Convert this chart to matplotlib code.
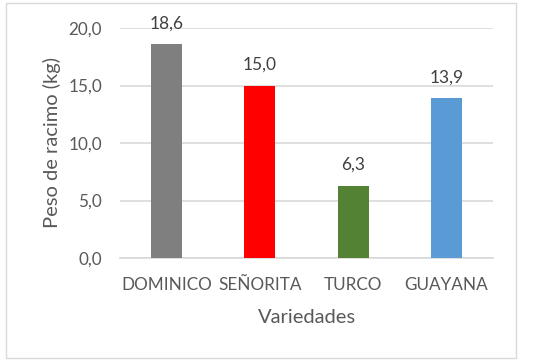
import matplotlib

matplotlib.use("Agg")
import matplotlib.pyplot as plt
from matplotlib.patches import Rectangle

categories = ["DOMINICO", "SEÑORITA", "TURCO", "GUAYANA"]
values = [18.6, 15.0, 6.3, 13.9]
colors = ["#7f7f7f", "#ff0000", "#548235", "#5b9bd5"]
yticks = [0, 5, 10, 15, 20]

plt.rcParams["font.family"] = ["Lato", "DejaVu Sans"]
text_color = "#595959"

fig = plt.figure(figsize=(5.46, 3.61), dpi=100)
ax = fig.add_axes([120 / 546, 1 - 258 / 361, 373 / 546, 230 / 361])

x = range(len(categories))
ax.bar(x, values, width=0.33, color=colors, zorder=3)
for xi, v in zip(x, values):
    ax.text(xi, v + 1.1, f"{v:.1f}".replace(".", ","), ha="center", va="bottom",
            fontsize=12.5, color="#404040")

ax.set_xlim(-0.5, len(categories) - 0.5)
ax.set_ylim(0, 20)
ax.set_yticks(yticks)
ax.set_yticklabels([f"{t:.1f}".replace(".", ",") for t in yticks])
ax.set_xticks(list(x))
ax.set_xticklabels(categories)
ax.tick_params(axis="both", length=0, labelsize=12.3, labelcolor=text_color)
ax.tick_params(axis="x", pad=14)
ax.tick_params(axis="y", pad=13)
ax.grid(axis="y", color="#d9d9d9", lw=1.2, zorder=0)
for side in ["top", "right", "left"]:
    ax.spines[side].set_visible(False)
ax.spines["bottom"].set_color("#d9d9d9")
ax.spines["bottom"].set_linewidth(1.2)

ax.set_xlabel("Variedades", fontsize=14.5, color=text_color, labelpad=11)
ax.set_ylabel("Peso de racimo (kg)", fontsize=14.5, color=text_color, labelpad=5)

fig.patches.append(Rectangle((6 / 546, 1 - 358 / 361), 510 / 546, 355 / 361,
                             transform=fig.transFigure, fill=False,
                             edgecolor="#d9d9d9", lw=1))

fig.savefig("out.png", dpi=100)
